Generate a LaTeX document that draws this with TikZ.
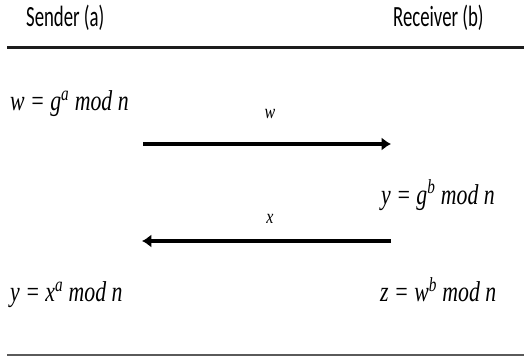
\documentclass[tikz,border=0pt]{standalone}
\usepackage{fontspec}
\setsansfont{Carlito}
\newfontfamily\eqfont{Liberation Serif}
\usepackage{tikz}
\usetikzlibrary{positioning,arrows.meta}
\definecolor{cRule}{HTML}{1C1C1C}
\definecolor{cThin}{HTML}{5A5A5A}
\tikzset{
  head/.style={anchor=base west,inner sep=0pt,xscale=0.64,font=\sffamily\fontsize{22}{24}\selectfont},
  eqn/.style={anchor=base west,inner sep=0pt,xscale=0.76,font=\eqfont\itshape\fontsize{21.5}{24}\selectfont},
  msg/.style={anchor=base,inner sep=0pt,xscale=0.8,font=\eqfont\itshape\fontsize{15}{17}\selectfont},
  arr/.style={-{Latex[length=7pt,width=10pt]},line width=2.6pt},
  rule/.style={line width=2.9pt,draw=cRule},
  thinrule/.style={line width=1.5pt,draw=cThin}}
\begin{document}
\begin{tikzpicture}[x=0.75pt,y=-0.75pt]
\useasboundingbox (0,0) rectangle (524,356);
\node[head] (snd) at (26,26.7) {Sender (a)};
\node[head] (rcv) at (393,26.7) {Receiver (b)};
\coordinate (topL) at (7,47.5); \coordinate (topR) at (524,47.5);
\coordinate (botL) at (7,354.7); \coordinate (botR) at (524,354.7);
\draw[rule] (topL) -- (topR);
\draw[thinrule] (botL) -- (botR);
\node[eqn] (wa) at (10,110.7) {w = g\textsuperscript{a} mod n};
\node[eqn] (yb) at (381,204) {y = g\textsuperscript{b} mod n};
\node[eqn] (yx) at (10,301.5) {y = x\textsuperscript{a} mod n};
\node[eqn] (zw) at (380,301.5) {z = w\textsuperscript{b} mod n};
\coordinate (aOut) at (143,144); \coordinate (bIn) at (391,144);
\coordinate (bOut) at (391,241); \coordinate (aIn) at (142,241);
\draw[arr] (aOut) -- (bIn);
\draw[arr] (bOut) -- (aIn);
\node[msg] (wlbl) at (270,118) {w};
\node[msg] (xlbl) at (270,223) {x};
\end{tikzpicture}
\end{document}
